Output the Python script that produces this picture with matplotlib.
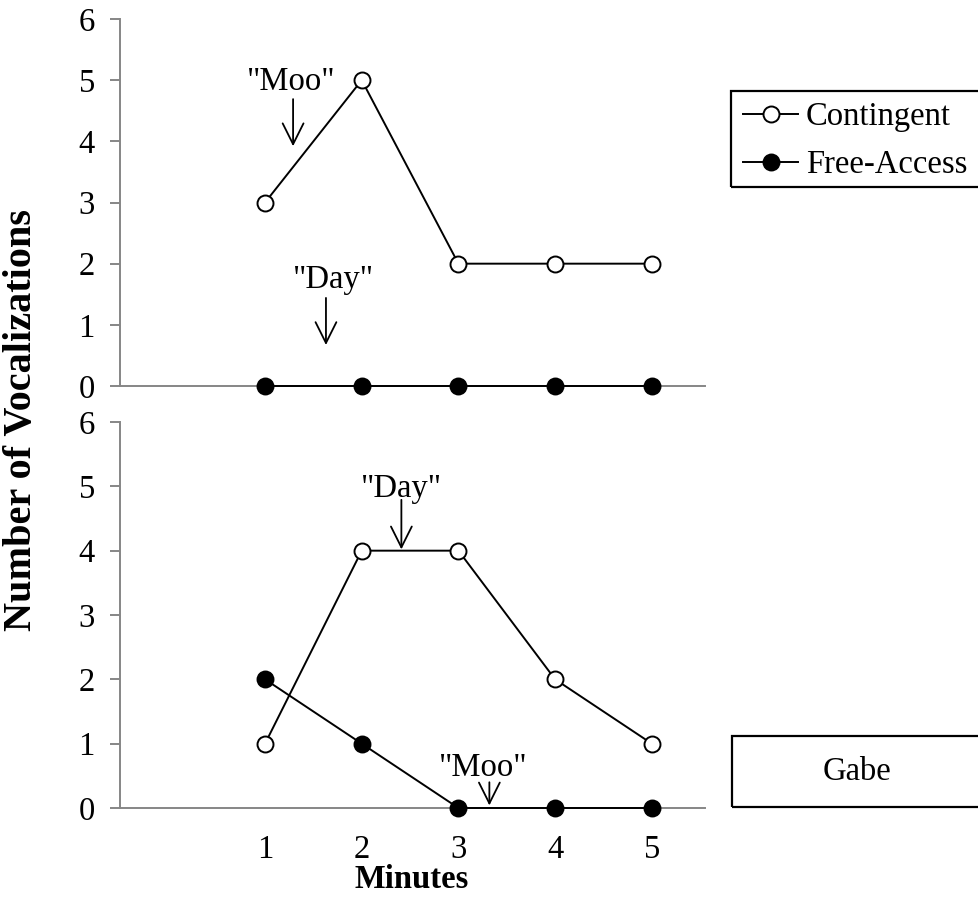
import matplotlib
matplotlib.use("Agg")
import matplotlib.pyplot as plt
from matplotlib.patches import Rectangle

plt.rcParams['font.family'] = ['Liberation Serif', 'DejaVu Serif']

minutes = [1, 2, 3, 4, 5]
top_contingent = [3, 5, 2, 2, 2]
top_free = [0, 0, 0, 0, 0]
bot_contingent = [1, 4, 4, 2, 1]
bot_free = [2, 1, 0, 0, 0]
y_ticks = [0, 1, 2, 3, 4, 5, 6]
series_names = ["Contingent", "Free-Access"]
subject = "Gabe"

W, H = 979, 901
fig = plt.figure(figsize=(W / 100, H / 100), dpi=100)

def fx(px):
    return px / W

def fy(py):
    return 1 - py / H

FS = 23.5
gray = "#868686"

ax1 = fig.add_axes([fx(120), fy(386), fx(705) - fx(120), fy(19) - fy(386)])
ax2 = fig.add_axes([fx(120), fy(808), fx(705) - fx(120), fy(422) - fy(808)])

line_kw = dict(color="black", lw=1.4, markersize=11.5, markeredgewidth=1.4, clip_on=False, zorder=3)

for ax, cont, free in [(ax1, top_contingent, top_free), (ax2, bot_contingent, bot_free)]:
    ax.plot(minutes, cont, marker="o", markerfacecolor="white", label=series_names[0], **line_kw)
    ax.plot(minutes, free, marker="o", markerfacecolor="black", label=series_names[1], **line_kw)
    ax.set_xlim(-0.5, 5.55)
    ax.set_ylim(0, 6)
    ax.set_yticks(y_ticks)
    ax.set_xticks(minutes)
    for s in ["top", "right"]:
        ax.spines[s].set_visible(False)
    for s in ["left", "bottom"]:
        ax.spines[s].set_color(gray)
        ax.spines[s].set_linewidth(1.4)
    ax.tick_params(axis="y", direction="out", length=7, width=1.4, color=gray,
                   labelsize=FS, pad=11)
    ax.tick_params(axis="x", length=0, labelsize=FS, pad=19)
    ax.patch.set_alpha(0)

ax1.tick_params(axis="x", labelbottom=False)

arrow_kw = dict(arrowstyle="->, head_length=0.5, head_width=0.25", lw=1.3,
                color="black", mutation_scale=30, shrinkA=0, shrinkB=0)

# Top panel annotations
ax1.annotate("", xy=(1.29, 3.92), xytext=(1.29, 4.69), arrowprops=arrow_kw)
ax1.text(1.27, 4.98, '"Moo"', ha="center", va="center", fontsize=FS)
ax1.annotate("", xy=(1.63, 0.67), xytext=(1.63, 1.44), arrowprops=arrow_kw)
ax1.text(1.71, 1.74, '"Day"', ha="center", va="center", fontsize=FS)

# Bottom panel annotations
ax2.annotate("", xy=(2.41, 4.02), xytext=(2.41, 4.79), arrowprops=arrow_kw)
ax2.text(2.41, 4.97, '"Day"', ha="center", va="center", fontsize=FS)
ax2.annotate("", xy=(3.32, 0.04), xytext=(3.32, 0.40), arrowprops=arrow_kw)
ax2.text(3.26, 0.62, '"Moo"', ha="center", va="center", fontsize=FS)

# Legend box
fig.patches.append(Rectangle((fx(731), fy(187)), fx(990) - fx(731), fy(91) - fy(187),
                             transform=fig.transFigure, fill=False, edgecolor="black",
                             lw=1.6, clip_on=False))
handles, labels = ax1.get_legend_handles_labels()
fig.legend(handles, labels, loc="center left", bbox_to_anchor=(fx(743), fy(141)),
           frameon=False, fontsize=FS, handlelength=1.7, handletextpad=0.22,
           labelspacing=0.55, borderpad=0, borderaxespad=0)

# Subject box
fig.patches.append(Rectangle((fx(732), fy(807)), fx(990) - fx(732), fy(736) - fy(807),
                             transform=fig.transFigure, fill=False, edgecolor="black",
                             lw=1.6, clip_on=False))
fig.text(fx(857), fy(772), subject, ha="center", va="center", fontsize=FS)

fig.text(fx(22), fy(420), "Number of Vocalizations", rotation=90, ha="center",
         va="center", fontsize=29, fontweight="bold")
fig.text(fx(412), fy(880), "Minutes", ha="center", va="center", fontsize=FS,
         fontweight="bold")

fig.savefig("out.png", dpi=100)
